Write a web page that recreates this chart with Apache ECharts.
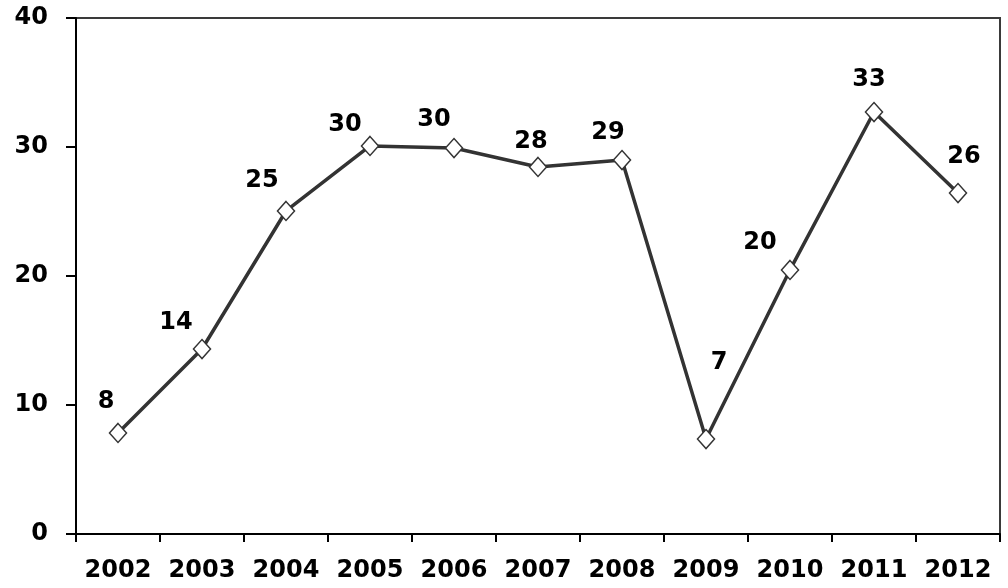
<!DOCTYPE html>
<html>
<head>
<meta charset="utf-8">
<script src="https://cdn.jsdelivr.net/npm/echarts@6/dist/echarts.min.js"></script>
<style>
html,body{margin:0;padding:0;background:#fff;}
#chart{width:1008px;height:588px;}
</style>
</head>
<body>
<div id="chart"></div>
<script>
const years = ['2002','2003','2004','2005','2006','2007','2008','2009','2010','2011','2012'];
const values = [7.83, 14.34, 25.04, 30.08, 29.92, 28.45, 28.99, 7.36, 20.47, 32.71, 26.43];
const yTicks = [0, 10, 20, 30, 40];
// label placement offsets (style only)
const labelOffsets = [[-12,-31],[-26,-26],[-24,-30],[-25,-21],[-20,-28],[-7,-25],[-14,-27],[13,-76],[-30,-27],[-5,-32],[6,-36]];

const FONT = '"DejaVu Sans", Verdana, sans-serif';
const chart = echarts.init(document.getElementById('chart'), null, {renderer:'canvas'});
chart.setOption({
  animation: false,
  backgroundColor: '#fff',
  grid: {left: 76, top: 18, right: 8, bottom: 54, show: true, borderColor: '#3a3a3a', borderWidth: 2, containLabel: false},
  xAxis: {
    type: 'category',
    data: years,
    boundaryGap: true,
    axisLine: {lineStyle: {color: '#000', width: 2}},
    axisTick: {show: true, interval: 0, length: 8, inside: false, lineStyle: {color: '#000', width: 2}},
    axisLabel: {interval: 0, hideOverlap: false, color: '#000', fontFamily: FONT, fontWeight: 'bold', fontSize: 24, margin: 25},
    splitLine: {show: false}
  },
  yAxis: {
    type: 'value',
    min: yTicks[0], max: yTicks[yTicks.length-1], interval: yTicks[1]-yTicks[0],
    axisLine: {show: true, lineStyle: {color: '#000', width: 2}},
    axisTick: {show: true, length: 10, lineStyle: {color: '#000', width: 2}},
    axisLabel: {color: '#000', fontFamily: FONT, fontWeight: 'bold', fontSize: 24, margin: 28},
    splitLine: {show: false}
  },
  series: [{
    type: 'line',
    data: values.map((v, i) => ({
      value: v,
      label: {offset: labelOffsets[i]}
    })),
    symbol: 'diamond',
    symbolSize: [17, 19],
    showAllSymbol: true,
    lineStyle: {color: '#333', width: 3.5},
    itemStyle: {color: '#fff', borderColor: '#333', borderWidth: 1.5},
    label: {
      show: true,
      position: 'inside',
      color: '#000',
      fontFamily: FONT,
      fontWeight: 'bold',
      fontSize: 24,
      formatter: p => Math.round(p.value)
    },
    z: 3
  }]
});
</script>
</body>
</html>
